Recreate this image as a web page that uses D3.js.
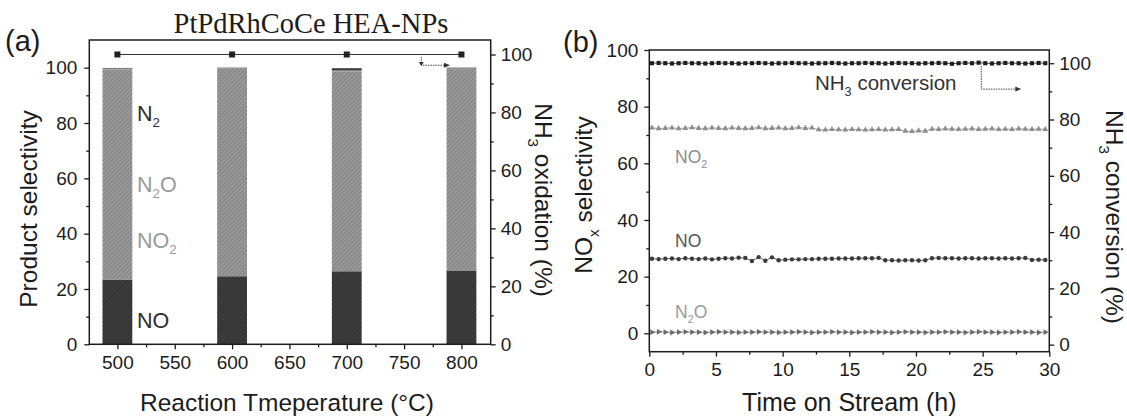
<!DOCTYPE html>
<html>
<head>
<meta charset="utf-8">
<script src="https://cdn.jsdelivr.net/npm/d3@7"></script>
<style>
  body { margin: 0; background: #fff; }
  text { font-family: "Liberation Sans", Arial, sans-serif; }
</style>
</head>
<body>
<svg id="chart" width="1127" height="416"></svg>
<script>
// ---- (a) product selectivity vs. reaction temperature ----
const temps = [500, 600, 700, 800];
const selNO = [23.4, 24.6, 26.4, 26.7];
const selNO2 = [76.0, 75.0, 72.3, 72.8];
const selN2O = [0.3, 0.2, 0.3, 0.3];
const selN2 = [0.2, 0.2, 0.8, 0.2];
const nh3Oxidation = [100, 100, 100, 100];
const tempTicks = [500, 550, 600, 650, 700, 750, 800];
const tempMinorTicks = [525, 575, 625, 675, 725, 775];
const selTicks = [0, 20, 40, 60, 80, 100];
const oxTicks = [0, 20, 40, 60, 80, 100];
const pctMinorTicks = [10, 30, 50, 70, 90];

// ---- (b) time on stream ----
const timeH = [0.2, 0.7, 1.2, 1.7, 2.2, 2.7, 3.2, 3.7, 4.2, 4.7,
  5.2, 5.7, 6.2, 6.7, 7.2, 7.7, 8.2, 8.7, 9.2, 9.7,
  10.2, 10.7, 11.2, 11.7, 12.2, 12.7, 13.2, 13.7, 14.2, 14.7,
  15.2, 15.7, 16.2, 16.7, 17.2, 17.7, 18.2, 18.7, 19.2, 19.7,
  20.2, 20.7, 21.2, 21.7, 22.2, 22.7, 23.2, 23.7, 24.2, 24.7,
  25.2, 25.7, 26.2, 26.7, 27.2, 27.7, 28.2, 28.7, 29.2, 29.7];
const nh3Conv = [100.0, 100.1, 100.0, 99.9, 100.0, 100.1, 100.0, 100.0, 99.9, 100.0,
  100.1, 100.0, 100.0, 99.9, 100.0, 100.0, 100.1, 100.0, 99.9, 100.0,
  100.0, 100.1, 100.0, 100.0, 99.9, 100.0, 100.0, 100.1, 100.0, 99.9,
  100.0, 100.0, 100.1, 100.0, 100.0, 99.9, 100.0, 100.1, 100.0, 100.0,
  99.9, 100.0, 100.0, 100.1, 100.0, 99.8, 100.0, 100.1, 100.0, 100.2,
  100.0, 99.9, 100.0, 100.1, 100.0, 100.0, 99.9, 100.0, 100.1, 100.0];
const noxNO2 = [72.5, 72.3, 72.4, 72.5, 72.3, 72.4, 72.6, 72.4, 72.3, 72.5,
  72.4, 72.3, 72.5, 72.4, 72.3, 72.4, 72.6, 72.3, 72.4, 72.5,
  72.3, 72.4, 72.6, 72.4, 72.5, 71.9, 71.8, 72.0, 71.9, 71.8,
  72.0, 71.9, 71.8, 71.9, 72.0, 71.8, 71.9, 72.0, 71.4, 71.3,
  71.5, 71.4, 72.1, 72.0, 72.2, 72.1, 72.0, 72.1, 72.2, 72.0,
  72.1, 72.2, 72.0, 72.1, 72.0, 72.2, 72.1, 72.0, 72.1, 72.0];
const noxNO = [26.3, 26.2, 26.3, 26.4, 26.2, 26.5, 26.3, 26.2, 26.4, 26.1,
  26.3, 26.5, 26.4, 26.7, 26.6, 25.5, 26.9, 25.6, 26.8, 25.8,
  26.0, 26.1, 26.1, 26.2, 26.2, 26.3, 26.3, 26.3, 26.4, 26.4,
  26.4, 26.5, 26.5, 26.5, 26.6, 25.8, 25.8, 25.7, 25.8, 25.8,
  25.7, 25.8, 26.5, 26.6, 26.5, 26.5, 26.4, 26.5, 26.5, 26.4,
  26.5, 26.5, 26.4, 26.5, 26.4, 26.5, 26.6, 25.9, 26.0, 25.9];
const noxN2O = [0.4, 0.5, 0.4, 0.3, 0.4, 0.5, 0.4, 0.4, 0.3, 0.4,
  0.5, 0.4, 0.4, 0.3, 0.4, 0.4, 0.5, 0.4, 0.4, 0.3,
  0.4, 0.4, 0.5, 0.4, 0.3, 0.4, 0.4, 0.5, 0.4, 0.4,
  0.3, 0.4, 0.4, 0.5, 0.4, 0.4, 0.3, 0.4, 0.5, 0.4,
  0.4, 0.3, 0.4, 0.4, 0.5, 0.4, 0.4, 0.3, 0.4, 0.5,
  0.4, 0.4, 0.3, 0.4, 0.4, 0.5, 0.4, 0.4, 0.3, 0.4];
const timeTicks = [0, 5, 10, 15, 20, 25, 30];
const timeMinorTicks = [2.5, 7.5, 12.5, 17.5, 22.5, 27.5];
const noxTicks = [0, 20, 40, 60, 80, 100];
const convTicks = [0, 20, 40, 60, 80, 100];

const svg = d3.select("#chart");
const INK = "#1c1c1c";

// hatched fills for the stacked bars
const defs = svg.append("defs");
function hatch(id, bg, line) {
  const p = defs.append("pattern").attr("id", id).attr("patternUnits", "userSpaceOnUse")
    .attr("width", 3).attr("height", 3).attr("patternTransform", "rotate(45)");
  p.append("rect").attr("width", 3).attr("height", 3).attr("fill", bg);
  p.append("line").attr("x1", 0).attr("y1", 0).attr("x2", 0).attr("y2", 3)
    .attr("stroke", line).attr("stroke-width", 1.2);
}
hatch("hDark", "#3d3d3d", "#262626");
hatch("hGray", "#9a9a9a", "#6f6f6f");

// text with subscript runs: parts = [[string, isSub], ...]
function rich(g, parts, x, y, size, opts = {}) {
  const t = g.append("text").attr("x", x).attr("y", y)
    .attr("font-size", size).attr("fill", opts.fill || INK)
    .attr("text-anchor", opts.anchor || "start");
  if (opts.transform) t.attr("transform", opts.transform);
  let down = false;
  parts.forEach(([s, sub]) => {
    const ts = t.append("tspan").text(s);
    if (sub && !down) { ts.attr("font-size", size * 0.62).attr("dy", size * 0.3); down = true; }
    else if (!sub && down) { ts.attr("dy", -size * 0.3); down = false; }
    else if (sub) ts.attr("font-size", size * 0.62);
  });
  return t;
}

function styleAxis(g, fs) {
  g.select(".domain").remove();
  g.selectAll(".tick line").attr("stroke", INK).attr("stroke-width", 1.3);
  g.selectAll(".tick text").attr("fill", INK).attr("font-size", fs)
    .style("font-family", '"Liberation Sans", Arial, sans-serif');
}

function frame(g, x0, x1, y0, y1) {
  g.append("rect").attr("x", x0).attr("y", y0).attr("width", x1 - x0).attr("height", y1 - y0)
    .attr("fill", "none").attr("stroke", INK).attr("stroke-width", 1.5);
}

function minor(g, axisFn, scale, values, pos) {
  const a = g.append("g").attr("transform", pos)
    .call(axisFn(scale).tickValues(values).tickSize(3).tickFormat(""));
  styleAxis(a, 10);
}

// =================== panel (a) ===================
{
  const L = 89.3, R = 490.7, T = 40, B = 344.3;
  const x = d3.scaleLinear().domain([475.5, 825.5]).range([L, R]);
  const y = d3.scaleLinear().domain([0, 110]).range([B, T]);
  const y2 = d3.scaleLinear().domain([0, 105]).range([B, T]);
  const g = svg.append("g");
  const barW = x(513) - x(487);

  const stack = temps.map((t, i) => ({ t, parts: [
    { v: selNO[i], fill: "url(#hDark)" },
    { v: selNO2[i], fill: "url(#hGray)" },
    { v: selN2O[i], fill: "url(#hGray)" },
    { v: selN2[i], fill: "url(#hDark)" }] }));
  stack.forEach(s => {
    let acc = 0;
    s.parts.forEach(p => {
      g.append("rect").attr("x", x(s.t) - barW / 2).attr("width", barW)
        .attr("y", y(acc + p.v)).attr("height", y(acc) - y(acc + p.v))
        .attr("fill", p.fill);
      acc += p.v;
    });
  });

  // NH3 oxidation on the right axis
  g.append("path").datum(temps.map((t, i) => [t, nh3Oxidation[i]]))
    .attr("d", d3.line().x(d => x(d[0])).y(d => y2(d[1])))
    .attr("fill", "none").attr("stroke", "#333").attr("stroke-width", 1);
  g.selectAll(".sq").data(temps).join("rect")
    .attr("x", (d) => x(d) - 3).attr("y", (d, i) => y2(nh3Oxidation[i]) - 3)
    .attr("width", 6).attr("height", 6).attr("fill", "#222");

  // axis pointer arrow
  g.append("path")
    .attr("d", `M${x(765)},${y2(99.2)} L${x(765)},${y2(96.3)} L${x(785)},${y2(96.3)}`)
    .attr("fill", "none").attr("stroke", "#444").attr("stroke-width", 1).attr("stroke-dasharray", "1.5,1");
  g.append("path")
    .attr("d", `M${x(790)},${y2(96.3)} l-6,-2.5 l0,5 z`).attr("fill", "#333");
  g.append("path")
    .attr("d", `M${x(765)},${y2(96.0)} l-2.5,-4 l5,0 z`).attr("fill", "#333");

  // axes
  const ax = g.append("g").attr("transform", `translate(0,${B})`)
    .call(d3.axisBottom(x).tickValues(tempTicks).tickSize(5).tickPadding(6).tickFormat(d3.format("d")));
  styleAxis(ax, 19);
  minor(g, d3.axisBottom, x, tempMinorTicks, `translate(0,${B})`);
  const ay = g.append("g").attr("transform", `translate(${L},0)`)
    .call(d3.axisLeft(y).tickValues(selTicks).tickSize(5).tickPadding(7));
  styleAxis(ay, 19);
  minor(g, d3.axisLeft, y, pctMinorTicks, `translate(${L},0)`);
  const ay2 = g.append("g").attr("transform", `translate(${R},0)`)
    .call(d3.axisRight(y2).tickValues(oxTicks).tickSize(5).tickPadding(5));
  styleAxis(ay2, 19);
  minor(g, d3.axisRight, y2, pctMinorTicks, `translate(${R},0)`);
  frame(g, L, R, T, B);

  // titles & labels
  g.append("text").attr("x", 311).attr("y", 33).attr("text-anchor", "middle")
    .attr("font-size", 28.5).attr("fill", INK).style("font-family", '"Liberation Serif", "Times New Roman", serif')
    .text("PtPdRhCoCe HEA-NPs");
  g.append("text").attr("x", 5).attr("y", 51).attr("font-size", 29).attr("fill", INK).text("(a)");
  g.append("text").attr("x", (L + R) / 2 - 3).attr("y", 411).attr("text-anchor", "middle")
    .attr("font-size", 24.5).attr("fill", INK).text("Reaction Tmeperature (°C)");
  g.append("text").attr("transform", "translate(37,209) rotate(-90)").attr("text-anchor", "middle")
    .attr("font-size", 24.5).attr("fill", INK).text("Product selectivity");
  rich(g, [["NH", false], ["3", true], [" oxidation (%)", false]], 0, 0, 24.5,
    { anchor: "middle", transform: "translate(535,200) rotate(90)" });

  rich(g, [["N", false], ["2", true]], 137, 121, 21.5, { fill: "#2e2e2e" });
  rich(g, [["N", false], ["2", true], ["O", false]], 137, 192, 21.5, { fill: "#999" });
  rich(g, [["NO", false], ["2", true]], 137, 248, 21.5, { fill: "#999" });
  rich(g, [["NO", false]], 137, 328, 21.5, { fill: "#2e2e2e" });
}

// =================== panel (b) ===================
{
  const L = 649.3, R = 1049.3, T = 50, B = 351.7;
  const x = d3.scaleLinear().domain([0, 30]).range([L, R]);
  const y = d3.scaleLinear().domain([-6.5, 100]).range([B, T]);
  const y2 = d3.scaleLinear().domain([-2.5, 104.7]).range([B, T]);
  const g = svg.append("g");

  function series(vals, scale, color, sym, size, rot) {
    const pts = timeH.map((t, i) => [x(t), scale(vals[i])]);
    g.append("path").datum(pts).attr("d", d3.line())
      .attr("fill", "none").attr("stroke", color).attr("stroke-width", 0.8);
    const shape = d3.symbol().type(sym).size(size);
    g.append("g").selectAll("path").data(pts).join("path")
      .attr("d", shape).attr("fill", color)
      .attr("transform", d => `translate(${d[0]},${d[1]}) rotate(${rot || 0})`);
  }
  series(nh3Conv, y2, "#1e1e1e", d3.symbolSquare, 17);
  series(noxNO2, y, "#8d8d8d", d3.symbolTriangle, 15);
  series(noxNO, y, "#3a3a3a", d3.symbolCircle, 15);
  series(noxN2O, y, "#6a6a6a", d3.symbolTriangle, 15, 90);

  // axis pointer arrow
  g.append("path")
    .attr("d", `M${x(24.9)},${y2(99.0)} L${x(24.9)},${y2(90.8)} L${x(27.5)},${y2(90.8)}`)
    .attr("fill", "none").attr("stroke", "#444").attr("stroke-width", 1).attr("stroke-dasharray", "1.5,1");
  g.append("path")
    .attr("d", `M${x(27.9)},${y2(90.8)} l-6,-2.5 l0,5 z`).attr("fill", "#333");

  // axes
  const ax = g.append("g").attr("transform", `translate(0,${B})`)
    .call(d3.axisBottom(x).tickValues(timeTicks).tickSize(5).tickPadding(6));
  styleAxis(ax, 19);
  minor(g, d3.axisBottom, x, timeMinorTicks, `translate(0,${B})`);
  const ay = g.append("g").attr("transform", `translate(${L},0)`)
    .call(d3.axisLeft(y).tickValues(noxTicks).tickSize(5).tickPadding(6));
  styleAxis(ay, 19);
  minor(g, d3.axisLeft, y, pctMinorTicks, `translate(${L},0)`);
  const ay2 = g.append("g").attr("transform", `translate(${R},0)`)
    .call(d3.axisRight(y2).tickValues(convTicks).tickSize(5).tickPadding(5));
  styleAxis(ay2, 19);
  minor(g, d3.axisRight, y2, pctMinorTicks, `translate(${R},0)`);
  frame(g, L, R, T, B);

  g.append("text").attr("x", 563).attr("y", 52).attr("font-size", 29).attr("fill", INK).text("(b)");
  g.append("text").attr("x", (L + R) / 2).attr("y", 411).attr("text-anchor", "middle")
    .attr("font-size", 25).attr("fill", INK).text("Time on Stream (h)");
  rich(g, [["NO", false], ["x", true], [" selectivity", false]], 0, 0, 24.5,
    { anchor: "middle", transform: "translate(592,195) rotate(-90)" });
  rich(g, [["NH", false], ["3", true], [" conversion (%)", false]], 0, 0, 24.5,
    { anchor: "middle", transform: "translate(1106,217) rotate(90)" });

  rich(g, [["NH", false], ["3", true], [" conversion", false]], 815, 90, 20.5, { fill: "#333" });
  rich(g, [["NO", false], ["2", true]], 675, 163, 17.5, { fill: "#8d8d8d" });
  rich(g, [["NO", false]], 675, 247, 17.5, { fill: "#555" });
  rich(g, [["N", false], ["2", true], ["O", false]], 675, 318, 17.5, { fill: "#9a9a9a" });
}
</script>
</body>
</html>
